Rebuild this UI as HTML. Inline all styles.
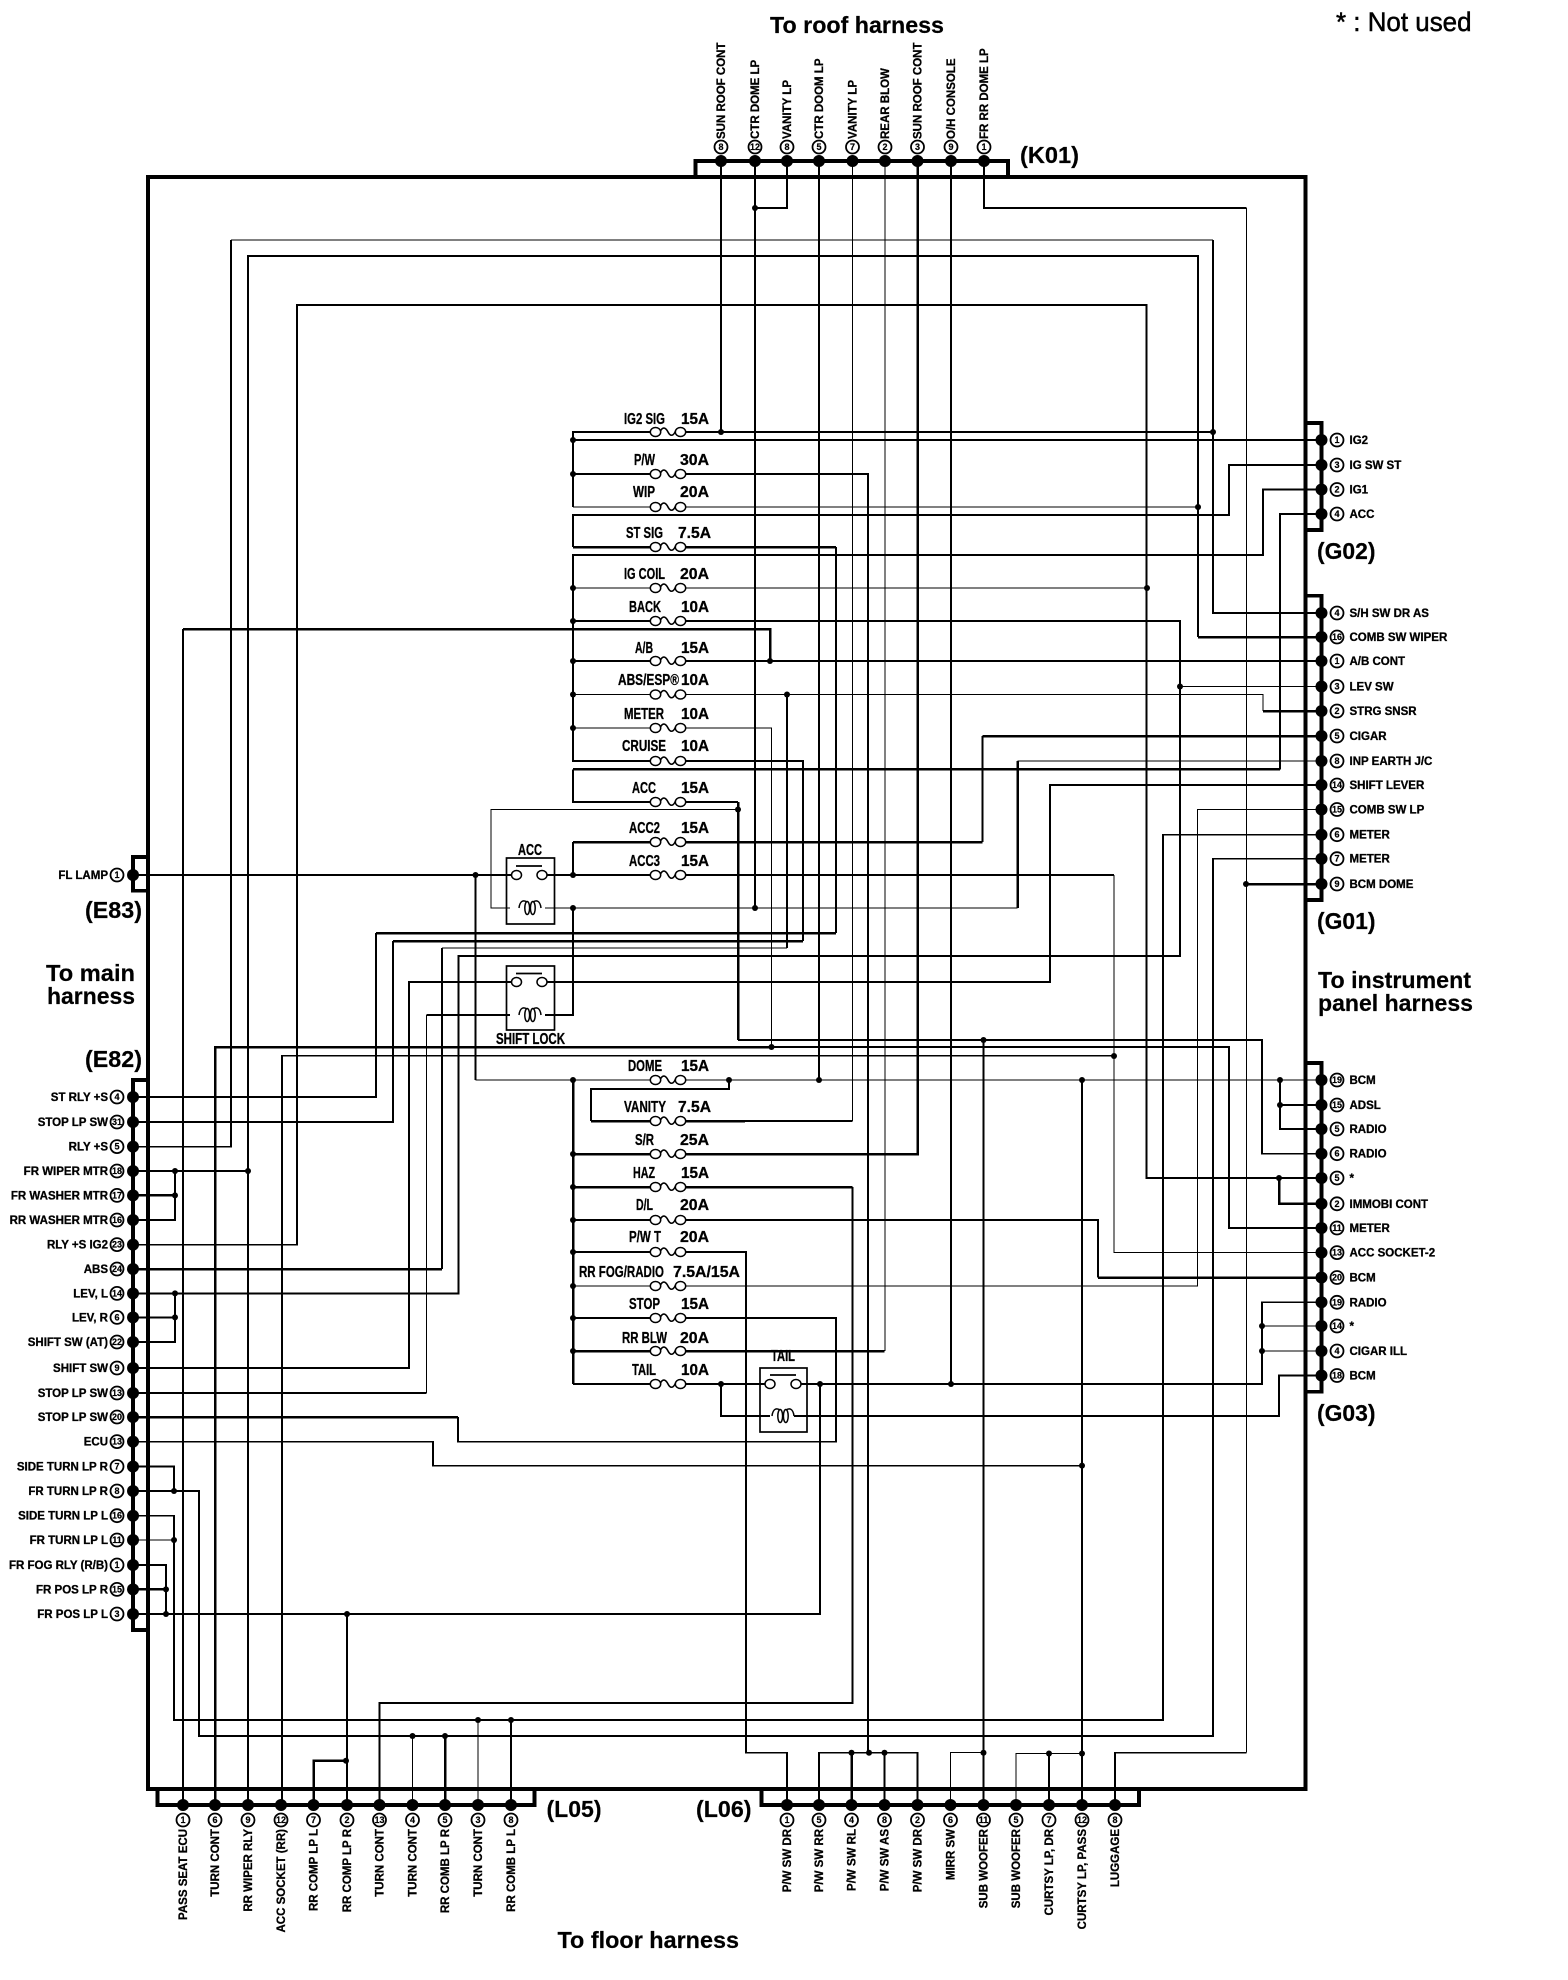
<!DOCTYPE html>
<html><head><meta charset="utf-8"><title>Fuse box diagram</title>
<style>
html,body{margin:0;padding:0;background:#fff}
svg{display:block}
text{font-family:"Liberation Sans",sans-serif;font-weight:bold;fill:#000;stroke:#000;stroke-width:.3}
.w path{fill:none;stroke:#000;stroke-linejoin:miter;shape-rendering:crispEdges}
.t path{stroke-width:1}
.m path{stroke-width:1.7}
.k path{stroke-width:2.5}
.x path{stroke-width:3.6}
.d circle{fill:#000}
.o circle{fill:#fff;stroke:#000;stroke-width:1.8}
.n text{font-size:9px;text-anchor:middle;stroke-width:.2}
.l text{font-size:11.5px}
.e text{font-size:11.5px;text-anchor:end}
.f text{font-size:15.5px}
.h text{font-size:23px;stroke-width:.2}
</style></head><body>
<svg xmlns="http://www.w3.org/2000/svg" width="1568" height="1980" viewBox="0 0 1568 1980">
<defs>
<g id="f"><rect x="-12" y="-4" width="24" height="8" fill="#fff"/><ellipse cx="-12.5" rx="5.2" ry="4.5" fill="#fff" stroke="#000" stroke-width="1.5"/><ellipse cx="12.5" rx="5.2" ry="4.5" fill="#fff" stroke="#000" stroke-width="1.5"/><path d="M-7.5 -1C-5 -6 -2 -4 0 0S5 5 7.5 -1" fill="none" stroke="#000" stroke-width="1.6"/></g>
<g id="c"><path d="M-11 0C-10 -8 -6 -8 -3 -6M3 -6C6 -8 10 -8 11 0" fill="none" stroke="#000" stroke-width="1.5"/><ellipse cx="-2.8" rx="2.4" ry="6.5" fill="#fff" stroke="#000" stroke-width="1.5"/><ellipse cx="2.8" rx="2.4" ry="6.5" fill="#fff" stroke="#000" stroke-width="1.5"/></g>
</defs>

<g class="w t">
<path d="M852.5 161V1121"/><path d="M885 161V1351"/>
<path d="M573 588H1147"/><path d="M1180 686.5H1321.5"/>
<path d="M573 694.5H1263V711"/><path d="M573 728H771.5V1047"/>
<path d="M738 809.5H491V908H510"/><path d="M1114 875V1252.6H1321.5"/>
<path d="M475.5 1080H1321.5"/><path d="M1017.5 761H1321.5"/>
<path d="M426.5 1015V1393"/><path d="M573 1286H1197.5V809.5H1321.5"/>
<path d="M1262 1326H1321.5"/><path d="M1262 1351H1321.5"/><path d="M133 1540H174"/>
<path d="M412.5 1736V1805"/><path d="M478 1720V1805"/><path d="M950.5 1805V1752.7H983.5"/><path d="M1016 1805V1753.5H1082"/>
<path d="M1246.5 208V1752.7"/>
<path d="M545 908H1017.5"/><path d="M787 948H442"/><path d="M573 507H1198"/><path d="M231 240H1213"/>
</g>
<g class="w m">
<path d="M721 161V432"/><path d="M755 161V908"/><path d="M755 208H787V161"/><path d="M819 161V1080"/><path d="M951 161V1384"/>
<path d="M729 1080V1089H591V1121"/><path d="M745 1121H852.5"/>
<path d="M984 161V208H1246.5M1246.5 1752.7H1115V1805"/>
<path d="M133 1146.6H231V240M1213 240V613H1321.5"/>
<path d="M248 1805V256H1198V637"/>
<path d="M133 1244.6H297V305H1146.5V1178H1321.5"/>
<path d="M1213 432H573V507"/><path d="M573 440H1321.5"/><path d="M573 474H868V1752.7"/>
<path d="M1321.5 465H1229V515H573V547"/>
<path d="M1321.5 489.5H1263V555H573V761H803V941"/>
<path d="M573 621H1180V956H458.5V1293.4H133"/>
<path d="M183 1805V629"/><path d="M771.5 1047H1229V1228H1321.5"/>
<path d="M1280 769.4V514H1321.5"/><path d="M573 769.4V802H738M738 1040H1262V1153.7H1321.5"/>
<path d="M983.5 1040V1805"/><path d="M573 842V875"/>
<path d="M133 875H512"/><path d="M546 875H1114"/>
<path d="M282 1805V1055.6H1114"/>
<path d="M573 908V1015H545"/>
<path d="M512 982H409V1368H133"/><path d="M546 982H1050V785H1321.5"/>
<path d="M510 1015H426.5M426.5 1393H133"/>
<path d="M1082 1080V1805"/><path d="M1280 1080V1129H1321.5"/><path d="M1280 1105H1321.5"/>
<path d="M852.5 1187V1703H379.5V1805"/><path d="M573 1220H1098V1277.5"/>
<path d="M573 1252H746V1752.7H787V1805"/>
<path d="M573 1318H836V1441.6H458V1417"/>
<path d="M1321.5 1302.3H1262V1384H800"/><path d="M573 1384H766"/>
<path d="M721 1384V1416H770"/><path d="M794 1416H1279V1375.5H1321.5"/>
<path d="M820 1384V1614H133"/><path d="M347 1614V1805"/>
<path d="M133 1441.6H433V1465.6H1082"/>
<path d="M133 1171H248"/><path d="M175 1171V1220H133"/>
<path d="M175 1293.4V1342H133"/><path d="M133 1317.4H175"/>
<path d="M133 1466.5H174V1491"/><path d="M133 1491H199V1736H1213V858.7H1321.5"/>
<path d="M133 1515.7H174V1720H1163V834.7H1321.5"/>
<path d="M133 1565H166V1614"/>
<path d="M511 1720V1805"/><path d="M819 1805V1752.7H917.5V1805"/><path d="M884.5 1752.7V1805"/><path d="M1049 1753.5V1805"/>
<path d="M836 547V933"/><path d="M376 933V1097H133"/><path d="M393 941V1122H133"/>
<path d="M787 694.5V948"/><path d="M442 948V1269"/><path d="M573 661H1321.5"/>
<path d="M475.5 875V1080"/><path d="M982.5 842V736"/>
</g>
<g class="w k">
<path d="M591 1121H745"/><path d="M573 1351H884.5"/><path d="M917.5 161V1154H573"/>
<path d="M1198 637H1321.5"/><path d="M573 547H836"/><path d="M836 933H376"/><path d="M803 941H393"/>
<path d="M183 629H770V661"/><path d="M1263 711H1321.5"/>
<path d="M442 1269H133"/><path d="M771.5 1047H215V1805"/>
<path d="M573 769.4H1280"/><path d="M573 842H982.5M982.5 736H1321.5"/>
<path d="M738 802V1040"/><path d="M1017.5 908V761"/><path d="M573 1080V1384"/>
<path d="M573 1187H852.5"/><path d="M1098 1277.5H1321.5"/><path d="M458 1417H133"/>
<path d="M1246 884H1321.5"/><path d="M1279 1178V1203.8H1321.5"/>
<path d="M313.5 1805V1760.7H346"/><path d="M133 1195.4H175"/><path d="M133 1589.4H166"/>
<path d="M851.5 1752.7V1805"/><path d="M445 1736V1805"/>
</g>
<g class="w x">
<path d="M148 177H1305.5V1789H148Z"/>
<path d="M695.5 177V161H1008V177"/><path d="M1305.5 423H1321.5V530H1305.5"/><path d="M1305.5 595.6H1321.5V900H1305.5"/><path d="M1305.5 1063H1321.5V1391.6H1305.5"/>
<path d="M148 857H133V890.6H148"/><path d="M148 1080H133V1630H148"/>
<path d="M157.5 1789V1805H534.5V1789"/><path d="M761.5 1789V1805H1139V1789"/>
</g>

<!-- small junction dots -->
<g class="d">
<circle cx="755" cy="208" r="3"/><circle cx="721" cy="432" r="3"/><circle cx="1213" cy="432" r="3"/><circle cx="573" cy="440" r="3"/><circle cx="573" cy="474" r="3"/><circle cx="1198" cy="507" r="3"/><circle cx="1147" cy="588" r="3"/><circle cx="573" cy="588" r="3"/><circle cx="573" cy="621" r="3"/><circle cx="770" cy="661" r="3"/><circle cx="573" cy="661" r="3"/><circle cx="573" cy="694.5" r="3"/><circle cx="787" cy="694.5" r="3"/><circle cx="573" cy="728" r="3"/><circle cx="1180" cy="686.5" r="3"/><circle cx="738" cy="809.5" r="3"/><circle cx="475.5" cy="875" r="3"/><circle cx="573" cy="875" r="3"/><circle cx="573" cy="908" r="3"/><circle cx="755" cy="908" r="3"/><circle cx="771.5" cy="1047" r="3"/><circle cx="1114" cy="1056" r="3"/><circle cx="983.5" cy="1040" r="3"/><circle cx="573" cy="1080" r="3"/><circle cx="729" cy="1080" r="3"/><circle cx="819" cy="1080" r="3"/><circle cx="1082" cy="1080" r="3"/><circle cx="1280" cy="1080" r="3"/><circle cx="1280" cy="1105" r="3"/><circle cx="1279" cy="1178" r="3"/><circle cx="573" cy="1154" r="3"/><circle cx="573" cy="1187" r="3"/><circle cx="573" cy="1220" r="3"/><circle cx="573" cy="1252" r="3"/><circle cx="573" cy="1286" r="3"/><circle cx="573" cy="1318" r="3"/><circle cx="573" cy="1351" r="3"/><circle cx="721" cy="1384" r="3"/><circle cx="820" cy="1384" r="3"/><circle cx="951" cy="1384" r="3"/><circle cx="1262" cy="1326" r="3"/><circle cx="1262" cy="1351" r="3"/><circle cx="1082" cy="1465.6" r="3"/><circle cx="248" cy="1171" r="3"/><circle cx="175" cy="1171" r="3"/><circle cx="175" cy="1195.4" r="3"/><circle cx="175" cy="1293.4" r="3"/><circle cx="175" cy="1317.4" r="3"/><circle cx="174" cy="1491" r="3"/><circle cx="174" cy="1540" r="3"/><circle cx="166" cy="1589.4" r="3"/><circle cx="166" cy="1614" r="3"/><circle cx="347" cy="1614" r="3"/><circle cx="346" cy="1760.7" r="3"/><circle cx="412.5" cy="1736" r="3"/><circle cx="445" cy="1736" r="3"/><circle cx="478" cy="1720" r="3"/><circle cx="511" cy="1720" r="3"/><circle cx="851.5" cy="1752.7" r="3"/><circle cx="869" cy="1752.7" r="3"/><circle cx="884.5" cy="1752.7" r="3"/><circle cx="983.5" cy="1752.7" r="3"/><circle cx="1049" cy="1753.5" r="3"/><circle cx="1082" cy="1753.5" r="3"/><circle cx="1246" cy="884" r="3"/>
</g>

<!-- fuses -->
<use href="#f" x="668" y="432"/><use href="#f" x="668" y="474"/><use href="#f" x="668" y="507"/><use href="#f" x="668" y="547"/><use href="#f" x="668" y="588"/><use href="#f" x="668" y="621"/><use href="#f" x="668" y="661"/><use href="#f" x="668" y="694.5"/><use href="#f" x="668" y="728"/><use href="#f" x="668" y="761"/><use href="#f" x="668" y="802"/><use href="#f" x="668" y="842"/><use href="#f" x="668" y="875"/><use href="#f" x="668" y="1080"/><use href="#f" x="668" y="1121"/><use href="#f" x="668" y="1154"/><use href="#f" x="668" y="1187"/><use href="#f" x="668" y="1220"/><use href="#f" x="668" y="1252"/><use href="#f" x="668" y="1286"/><use href="#f" x="668" y="1318"/><use href="#f" x="668" y="1351"/><use href="#f" x="668" y="1384"/>

<!-- relays -->
<g fill="none" stroke="#000" stroke-width="1.7">
<rect x="506.5" y="858" width="48" height="66"/><path d="M516 866H542"/>
<rect x="506.5" y="966" width="48" height="64"/><path d="M516 973.5H542"/>
<rect x="760" y="1368" width="47" height="64"/><path d="M770 1375H796"/>
</g>
<g fill="#fff" stroke="#000" stroke-width="1.5">
<ellipse cx="516.5" cy="875" rx="5" ry="4.5"/><ellipse cx="542" cy="875" rx="5" ry="4.5"/>
<ellipse cx="516.5" cy="982" rx="5" ry="4.5"/><ellipse cx="542" cy="982" rx="5" ry="4.5"/>
<ellipse cx="770" cy="1384" rx="5" ry="4.5"/><ellipse cx="796" cy="1384" rx="5" ry="4.5"/>
</g>
<use href="#c" x="530" y="908"/><use href="#c" x="530" y="1015"/><use href="#c" x="783" y="1416"/>

<!-- fuse labels -->
<g class="f">
<text x="624" y="424" textLength="41" lengthAdjust="spacingAndGlyphs">IG2 SIG</text><text x="681" y="424" textLength="28" lengthAdjust="spacingAndGlyphs">15A</text>
<text x="634" y="465" textLength="21" lengthAdjust="spacingAndGlyphs">P/W</text><text x="680" y="465" textLength="29" lengthAdjust="spacingAndGlyphs">30A</text>
<text x="633" y="497" textLength="22" lengthAdjust="spacingAndGlyphs">WIP</text><text x="680" y="497" textLength="29" lengthAdjust="spacingAndGlyphs">20A</text>
<text x="626" y="538" textLength="37" lengthAdjust="spacingAndGlyphs">ST SIG</text><text x="678" y="538" textLength="33" lengthAdjust="spacingAndGlyphs">7.5A</text>
<text x="624" y="579" textLength="41" lengthAdjust="spacingAndGlyphs">IG COIL</text><text x="680" y="579" textLength="29" lengthAdjust="spacingAndGlyphs">20A</text>
<text x="629" y="612" textLength="32" lengthAdjust="spacingAndGlyphs">BACK</text><text x="681" y="612" textLength="28" lengthAdjust="spacingAndGlyphs">10A</text>
<text x="635" y="653" textLength="18" lengthAdjust="spacingAndGlyphs">A/B</text><text x="681" y="653" textLength="28" lengthAdjust="spacingAndGlyphs">15A</text>
<text x="618" y="685" textLength="61" lengthAdjust="spacingAndGlyphs">ABS/ESP®</text><text x="681" y="685" textLength="28" lengthAdjust="spacingAndGlyphs">10A</text>
<text x="624" y="719" textLength="40" lengthAdjust="spacingAndGlyphs">METER</text><text x="681" y="719" textLength="28" lengthAdjust="spacingAndGlyphs">10A</text>
<text x="622" y="751" textLength="44" lengthAdjust="spacingAndGlyphs">CRUISE</text><text x="681" y="751" textLength="28" lengthAdjust="spacingAndGlyphs">10A</text>
<text x="632" y="793" textLength="24" lengthAdjust="spacingAndGlyphs">ACC</text><text x="681" y="793" textLength="28" lengthAdjust="spacingAndGlyphs">15A</text>
<text x="629" y="833" textLength="31" lengthAdjust="spacingAndGlyphs">ACC2</text><text x="681" y="833" textLength="28" lengthAdjust="spacingAndGlyphs">15A</text>
<text x="629" y="866" textLength="31" lengthAdjust="spacingAndGlyphs">ACC3</text><text x="681" y="866" textLength="28" lengthAdjust="spacingAndGlyphs">15A</text>
<text x="628" y="1071" textLength="34" lengthAdjust="spacingAndGlyphs">DOME</text><text x="681" y="1071" textLength="28" lengthAdjust="spacingAndGlyphs">15A</text>
<text x="624" y="1112" textLength="42" lengthAdjust="spacingAndGlyphs">VANITY</text><text x="678" y="1112" textLength="33" lengthAdjust="spacingAndGlyphs">7.5A</text>
<text x="635" y="1145" textLength="19" lengthAdjust="spacingAndGlyphs">S/R</text><text x="680" y="1145" textLength="29" lengthAdjust="spacingAndGlyphs">25A</text>
<text x="633" y="1178" textLength="22" lengthAdjust="spacingAndGlyphs">HAZ</text><text x="681" y="1178" textLength="28" lengthAdjust="spacingAndGlyphs">15A</text>
<text x="636" y="1210" textLength="17" lengthAdjust="spacingAndGlyphs">D/L</text><text x="680" y="1210" textLength="29" lengthAdjust="spacingAndGlyphs">20A</text>
<text x="629" y="1242" textLength="32" lengthAdjust="spacingAndGlyphs">P/W T</text><text x="680" y="1242" textLength="29" lengthAdjust="spacingAndGlyphs">20A</text>
<text x="579" y="1277" textLength="85" lengthAdjust="spacingAndGlyphs">RR FOG/RADIO</text><text x="673" y="1277" textLength="67" lengthAdjust="spacingAndGlyphs">7.5A/15A</text>
<text x="629" y="1309" textLength="31" lengthAdjust="spacingAndGlyphs">STOP</text><text x="681" y="1309" textLength="28" lengthAdjust="spacingAndGlyphs">15A</text>
<text x="622" y="1343" textLength="45" lengthAdjust="spacingAndGlyphs">RR BLW</text><text x="680" y="1343" textLength="29" lengthAdjust="spacingAndGlyphs">20A</text>
<text x="632" y="1375" textLength="24" lengthAdjust="spacingAndGlyphs">TAIL</text><text x="681" y="1375" textLength="28" lengthAdjust="spacingAndGlyphs">10A</text>
<text x="518" y="855" textLength="24" lengthAdjust="spacingAndGlyphs">ACC</text>
<text x="496" y="1044" textLength="69" lengthAdjust="spacingAndGlyphs">SHIFT LOCK</text>
<text x="771" y="1361" textLength="24" lengthAdjust="spacingAndGlyphs">TAIL</text>
</g>

<!-- pin dots -->
<g class="d">
<circle cx="721" cy="161" r="6"/><circle cx="755" cy="161" r="6"/><circle cx="787" cy="161" r="6"/><circle cx="819" cy="161" r="6"/><circle cx="852.5" cy="161" r="6"/><circle cx="885" cy="161" r="6"/><circle cx="917.5" cy="161" r="6"/><circle cx="951" cy="161" r="6"/><circle cx="984" cy="161" r="6"/>
<circle cx="1321.5" cy="440" r="6"/><circle cx="1321.5" cy="465" r="6"/><circle cx="1321.5" cy="489.5" r="6"/><circle cx="1321.5" cy="514" r="6"/>
<circle cx="1321.5" cy="613" r="6"/><circle cx="1321.5" cy="637" r="6"/><circle cx="1321.5" cy="661" r="6"/><circle cx="1321.5" cy="686.5" r="6"/><circle cx="1321.5" cy="711" r="6"/><circle cx="1321.5" cy="736" r="6"/><circle cx="1321.5" cy="761" r="6"/><circle cx="1321.5" cy="785" r="6"/><circle cx="1321.5" cy="809.5" r="6"/><circle cx="1321.5" cy="834.7" r="6"/><circle cx="1321.5" cy="858.7" r="6"/><circle cx="1321.5" cy="884" r="6"/>
<circle cx="1321.5" cy="1080" r="6"/><circle cx="1321.5" cy="1105" r="6"/><circle cx="1321.5" cy="1129" r="6"/><circle cx="1321.5" cy="1153.7" r="6"/><circle cx="1321.5" cy="1178" r="6"/><circle cx="1321.5" cy="1203.8" r="6"/><circle cx="1321.5" cy="1228" r="6"/><circle cx="1321.5" cy="1252.6" r="6"/><circle cx="1321.5" cy="1277.5" r="6"/><circle cx="1321.5" cy="1302.3" r="6"/><circle cx="1321.5" cy="1326" r="6"/><circle cx="1321.5" cy="1351" r="6"/><circle cx="1321.5" cy="1375.5" r="6"/>
<circle cx="133" cy="875" r="6"/>
<circle cx="133" cy="1097" r="6"/><circle cx="133" cy="1122" r="6"/><circle cx="133" cy="1146.6" r="6"/><circle cx="133" cy="1171" r="6"/><circle cx="133" cy="1195.4" r="6"/><circle cx="133" cy="1220" r="6"/><circle cx="133" cy="1244.6" r="6"/><circle cx="133" cy="1269" r="6"/><circle cx="133" cy="1293.4" r="6"/><circle cx="133" cy="1317.4" r="6"/><circle cx="133" cy="1342" r="6"/><circle cx="133" cy="1368" r="6"/><circle cx="133" cy="1393" r="6"/><circle cx="133" cy="1417" r="6"/><circle cx="133" cy="1441.6" r="6"/><circle cx="133" cy="1466.5" r="6"/><circle cx="133" cy="1491" r="6"/><circle cx="133" cy="1515.7" r="6"/><circle cx="133" cy="1540" r="6"/><circle cx="133" cy="1565" r="6"/><circle cx="133" cy="1589.4" r="6"/><circle cx="133" cy="1614" r="6"/>
<circle cx="183" cy="1805" r="6"/><circle cx="215" cy="1805" r="6"/><circle cx="248" cy="1805" r="6"/><circle cx="281" cy="1805" r="6"/><circle cx="313.5" cy="1805" r="6"/><circle cx="347" cy="1805" r="6"/><circle cx="379.5" cy="1805" r="6"/><circle cx="412.5" cy="1805" r="6"/><circle cx="445" cy="1805" r="6"/><circle cx="478" cy="1805" r="6"/><circle cx="511" cy="1805" r="6"/>
<circle cx="787" cy="1805" r="6"/><circle cx="819" cy="1805" r="6"/><circle cx="851.5" cy="1805" r="6"/><circle cx="884.5" cy="1805" r="6"/><circle cx="917.5" cy="1805" r="6"/><circle cx="950.5" cy="1805" r="6"/><circle cx="983.5" cy="1805" r="6"/><circle cx="1016" cy="1805" r="6"/><circle cx="1049" cy="1805" r="6"/><circle cx="1082" cy="1805" r="6"/><circle cx="1115" cy="1805" r="6"/>
</g>

<!-- circled pin-number outlines -->
<g class="o">
<circle cx="721" cy="147" r="6.5"/><circle cx="755" cy="147" r="6.5"/><circle cx="787" cy="147" r="6.5"/><circle cx="819" cy="147" r="6.5"/><circle cx="852.5" cy="147" r="6.5"/><circle cx="885" cy="147" r="6.5"/><circle cx="917.5" cy="147" r="6.5"/><circle cx="951" cy="147" r="6.5"/><circle cx="984" cy="147" r="6.5"/>
<circle cx="1337" cy="440" r="6.5"/><circle cx="1337" cy="465" r="6.5"/><circle cx="1337" cy="489.5" r="6.5"/><circle cx="1337" cy="514" r="6.5"/>
<circle cx="1337" cy="613" r="6.5"/><circle cx="1337" cy="637" r="6.5"/><circle cx="1337" cy="661" r="6.5"/><circle cx="1337" cy="686.5" r="6.5"/><circle cx="1337" cy="711" r="6.5"/><circle cx="1337" cy="736" r="6.5"/><circle cx="1337" cy="761" r="6.5"/><circle cx="1337" cy="785" r="6.5"/><circle cx="1337" cy="809.5" r="6.5"/><circle cx="1337" cy="834.7" r="6.5"/><circle cx="1337" cy="858.7" r="6.5"/><circle cx="1337" cy="884" r="6.5"/>
<circle cx="1337" cy="1080" r="6.5"/><circle cx="1337" cy="1105" r="6.5"/><circle cx="1337" cy="1129" r="6.5"/><circle cx="1337" cy="1153.7" r="6.5"/><circle cx="1337" cy="1178" r="6.5"/><circle cx="1337" cy="1203.8" r="6.5"/><circle cx="1337" cy="1228" r="6.5"/><circle cx="1337" cy="1252.6" r="6.5"/><circle cx="1337" cy="1277.5" r="6.5"/><circle cx="1337" cy="1302.3" r="6.5"/><circle cx="1337" cy="1326" r="6.5"/><circle cx="1337" cy="1351" r="6.5"/><circle cx="1337" cy="1375.5" r="6.5"/>
<circle cx="117" cy="875" r="6.5"/>
<circle cx="117" cy="1097" r="6.5"/><circle cx="117" cy="1122" r="6.5"/><circle cx="117" cy="1146.6" r="6.5"/><circle cx="117" cy="1171" r="6.5"/><circle cx="117" cy="1195.4" r="6.5"/><circle cx="117" cy="1220" r="6.5"/><circle cx="117" cy="1244.6" r="6.5"/><circle cx="117" cy="1269" r="6.5"/><circle cx="117" cy="1293.4" r="6.5"/><circle cx="117" cy="1317.4" r="6.5"/><circle cx="117" cy="1342" r="6.5"/><circle cx="117" cy="1368" r="6.5"/><circle cx="117" cy="1393" r="6.5"/><circle cx="117" cy="1417" r="6.5"/><circle cx="117" cy="1441.6" r="6.5"/><circle cx="117" cy="1466.5" r="6.5"/><circle cx="117" cy="1491" r="6.5"/><circle cx="117" cy="1515.7" r="6.5"/><circle cx="117" cy="1540" r="6.5"/><circle cx="117" cy="1565" r="6.5"/><circle cx="117" cy="1589.4" r="6.5"/><circle cx="117" cy="1614" r="6.5"/>
<circle cx="183" cy="1820" r="6.5"/><circle cx="215" cy="1820" r="6.5"/><circle cx="248" cy="1820" r="6.5"/><circle cx="281" cy="1820" r="6.5"/><circle cx="313.5" cy="1820" r="6.5"/><circle cx="347" cy="1820" r="6.5"/><circle cx="379.5" cy="1820" r="6.5"/><circle cx="412.5" cy="1820" r="6.5"/><circle cx="445" cy="1820" r="6.5"/><circle cx="478" cy="1820" r="6.5"/><circle cx="511" cy="1820" r="6.5"/>
<circle cx="787" cy="1820" r="6.5"/><circle cx="819" cy="1820" r="6.5"/><circle cx="851.5" cy="1820" r="6.5"/><circle cx="884.5" cy="1820" r="6.5"/><circle cx="917.5" cy="1820" r="6.5"/><circle cx="950.5" cy="1820" r="6.5"/><circle cx="983.5" cy="1820" r="6.5"/><circle cx="1016" cy="1820" r="6.5"/><circle cx="1049" cy="1820" r="6.5"/><circle cx="1082" cy="1820" r="6.5"/><circle cx="1115" cy="1820" r="6.5"/>
</g>

<!-- pin numbers -->
<g class="n">
<text x="721" y="150">8</text><text x="755" y="150">12</text><text x="787" y="150">8</text><text x="819" y="150">5</text><text x="852.5" y="150">7</text><text x="885" y="150">2</text><text x="917.5" y="150">3</text><text x="951" y="150">9</text><text x="984" y="150">1</text>
<text x="1337" y="443">1</text><text x="1337" y="468">3</text><text x="1337" y="492.5">2</text><text x="1337" y="517">4</text>
<text x="1337" y="616">4</text><text x="1337" y="640">16</text><text x="1337" y="664">1</text><text x="1337" y="689.5">3</text><text x="1337" y="714">2</text><text x="1337" y="739">5</text><text x="1337" y="764">8</text><text x="1337" y="788">14</text><text x="1337" y="812.5">15</text><text x="1337" y="837.7">6</text><text x="1337" y="861.7">7</text><text x="1337" y="887">9</text>
<text x="1337" y="1083">19</text><text x="1337" y="1108">15</text><text x="1337" y="1132">5</text><text x="1337" y="1156.7">6</text><text x="1337" y="1181">5</text><text x="1337" y="1206.8">2</text><text x="1337" y="1231">11</text><text x="1337" y="1255.6">13</text><text x="1337" y="1280.5">20</text><text x="1337" y="1305.3">19</text><text x="1337" y="1329">14</text><text x="1337" y="1354">4</text><text x="1337" y="1378.5">18</text>
<text x="117" y="878">1</text>
<text x="117" y="1100">4</text><text x="117" y="1125">31</text><text x="117" y="1149.6">5</text><text x="117" y="1174">18</text><text x="117" y="1198.4">17</text><text x="117" y="1223">16</text><text x="117" y="1247.6">23</text><text x="117" y="1272">24</text><text x="117" y="1296.4">14</text><text x="117" y="1320.4">6</text><text x="117" y="1345">22</text><text x="117" y="1371">9</text><text x="117" y="1396">13</text><text x="117" y="1420">20</text><text x="117" y="1444.6">13</text><text x="117" y="1469.5">7</text><text x="117" y="1494">8</text><text x="117" y="1518.7">16</text><text x="117" y="1543">11</text><text x="117" y="1568">1</text><text x="117" y="1592.4">15</text><text x="117" y="1617">3</text>
<text x="183" y="1823">1</text><text x="215" y="1823">6</text><text x="248" y="1823">9</text><text x="281" y="1823">12</text><text x="313.5" y="1823">7</text><text x="347" y="1823">2</text><text x="379.5" y="1823">13</text><text x="412.5" y="1823">4</text><text x="445" y="1823">5</text><text x="478" y="1823">3</text><text x="511" y="1823">8</text>
<text x="787" y="1823">1</text><text x="819" y="1823">5</text><text x="851.5" y="1823">4</text><text x="884.5" y="1823">8</text><text x="917.5" y="1823">2</text><text x="950.5" y="1823">6</text><text x="983.5" y="1823">11</text><text x="1016" y="1823">5</text><text x="1049" y="1823">7</text><text x="1082" y="1823">12</text><text x="1115" y="1823">8</text>
</g>

<!-- K01 and G labels -->
<g class="l">
<text transform="translate(725 139) rotate(-90)">SUN ROOF CONT</text>
<text transform="translate(759 139) rotate(-90)">CTR DOME LP</text>
<text transform="translate(791 139) rotate(-90)">VANITY LP</text>
<text transform="translate(823 139) rotate(-90)">CTR DOOM LP</text>
<text transform="translate(856.5 139) rotate(-90)">VANITY LP</text>
<text transform="translate(889 139) rotate(-90)">REAR BLOW</text>
<text transform="translate(921.5 139) rotate(-90)">SUN ROOF CONT</text>
<text transform="translate(955 139) rotate(-90)">O/H CONSOLE</text>
<text transform="translate(988 139) rotate(-90)">FR RR DOME LP</text>
<text x="1349.5" y="444">IG2</text><text x="1349.5" y="469">IG SW ST</text><text x="1349.5" y="493.5">IG1</text><text x="1349.5" y="518">ACC</text>
<text x="1349.5" y="617">S/H SW DR AS</text><text x="1349.5" y="641">COMB SW WIPER</text><text x="1349.5" y="665">A/B CONT</text><text x="1349.5" y="690.5">LEV SW</text><text x="1349.5" y="715">STRG SNSR</text><text x="1349.5" y="740">CIGAR</text><text x="1349.5" y="765">INP EARTH J/C</text><text x="1349.5" y="789">SHIFT LEVER</text><text x="1349.5" y="813.5">COMB SW LP</text><text x="1349.5" y="838.7">METER</text><text x="1349.5" y="862.7">METER</text><text x="1349.5" y="888">BCM DOME</text>
<text x="1349.5" y="1084">BCM</text><text x="1349.5" y="1109">ADSL</text><text x="1349.5" y="1133">RADIO</text><text x="1349.5" y="1157.7">RADIO</text><text x="1349.5" y="1182">*</text><text x="1349.5" y="1207.8">IMMOBI CONT</text><text x="1349.5" y="1232">METER</text><text x="1349.5" y="1256.6">ACC SOCKET-2</text><text x="1349.5" y="1281.5">BCM</text><text x="1349.5" y="1306.3">RADIO</text><text x="1349.5" y="1330">*</text><text x="1349.5" y="1355">CIGAR ILL</text><text x="1349.5" y="1379.5">BCM</text>
</g>

<!-- E83/E82 and L labels -->
<g class="e">
<text x="108" y="879">FL LAMP</text>
<text x="108" y="1101">ST RLY +S</text><text x="108" y="1126">STOP LP SW</text><text x="108" y="1150.6">RLY +S</text><text x="108" y="1175">FR WIPER MTR</text><text x="108" y="1199.4">FR WASHER MTR</text><text x="108" y="1224">RR WASHER MTR</text><text x="108" y="1248.6">RLY +S IG2</text><text x="108" y="1273">ABS</text><text x="108" y="1297.4">LEV, L</text><text x="108" y="1321.4">LEV, R</text><text x="108" y="1346">SHIFT SW (AT)</text><text x="108" y="1372">SHIFT SW</text><text x="108" y="1397">STOP LP SW</text><text x="108" y="1421">STOP LP SW</text><text x="108" y="1445.6">ECU</text><text x="108" y="1470.5">SIDE TURN LP R</text><text x="108" y="1495">FR TURN LP R</text><text x="108" y="1519.7">SIDE TURN LP L</text><text x="108" y="1544">FR TURN LP L</text><text x="108" y="1569">FR FOG RLY (R/B)</text><text x="108" y="1593.4">FR POS LP R</text><text x="108" y="1618">FR POS LP L</text>
<text transform="translate(187 1829) rotate(-90)">PASS SEAT ECU</text>
<text transform="translate(219 1829) rotate(-90)">TURN CONT</text>
<text transform="translate(252 1829) rotate(-90)">RR WIPER RLY</text>
<text transform="translate(285 1829) rotate(-90)">ACC SOCKET (RR)</text>
<text transform="translate(317.5 1829) rotate(-90)">RR COMP LP L</text>
<text transform="translate(351 1829) rotate(-90)">RR COMP LP R</text>
<text transform="translate(383.5 1829) rotate(-90)">TURN CONT</text>
<text transform="translate(416.5 1829) rotate(-90)">TURN CONT</text>
<text transform="translate(449 1829) rotate(-90)">RR COMB LP R</text>
<text transform="translate(482 1829) rotate(-90)">TURN CONT</text>
<text transform="translate(515 1829) rotate(-90)">RR COMB LP L</text>
<text transform="translate(791 1829) rotate(-90)">P/W SW DR</text>
<text transform="translate(823 1829) rotate(-90)">P/W SW RR</text>
<text transform="translate(855.5 1829) rotate(-90)">P/W SW RL</text>
<text transform="translate(888.5 1829) rotate(-90)">P/W SW AS</text>
<text transform="translate(921.5 1829) rotate(-90)">P/W SW DR</text>
<text transform="translate(954.5 1829) rotate(-90)">MIRR SW</text>
<text transform="translate(987.5 1829) rotate(-90)">SUB WOOFER</text>
<text transform="translate(1020 1829) rotate(-90)">SUB WOOFER</text>
<text transform="translate(1053 1829) rotate(-90)">CURTSY LP, DR</text>
<text transform="translate(1086 1829) rotate(-90)">CURTSY LP, PASS</text>
<text transform="translate(1119 1829) rotate(-90)">LUGGAGE</text>
</g>

<!-- headings -->
<g class="h">
<text x="770" y="33" textLength="174" lengthAdjust="spacingAndGlyphs">To roof harness</text>
<text x="1336" y="31" textLength="135.5" lengthAdjust="spacingAndGlyphs" style="font-size:27px;font-weight:normal;stroke-width:.5">* : Not used</text>
<text x="1020" y="163" textLength="59" lengthAdjust="spacingAndGlyphs">(K01)</text>
<text x="1317" y="559" textLength="58.5" lengthAdjust="spacingAndGlyphs">(G02)</text>
<text x="1317" y="929" textLength="58.5" lengthAdjust="spacingAndGlyphs">(G01)</text>
<text x="1317" y="1421" textLength="58.5" lengthAdjust="spacingAndGlyphs">(G03)</text>
<text x="1318" y="988" textLength="153" lengthAdjust="spacingAndGlyphs">To instrument</text>
<text x="1318" y="1011" textLength="155" lengthAdjust="spacingAndGlyphs">panel harness</text>
<text x="46" y="981" textLength="89" lengthAdjust="spacingAndGlyphs">To main</text>
<text x="47" y="1004" textLength="88" lengthAdjust="spacingAndGlyphs">harness</text>
<text x="85" y="918" textLength="57" lengthAdjust="spacingAndGlyphs">(E83)</text>
<text x="85" y="1067" textLength="57" lengthAdjust="spacingAndGlyphs">(E82)</text>
<text x="546.5" y="1817" textLength="55" lengthAdjust="spacingAndGlyphs">(L05)</text>
<text x="696" y="1817" textLength="55.5" lengthAdjust="spacingAndGlyphs">(L06)</text>
<text x="557.5" y="1948" textLength="181.5" lengthAdjust="spacingAndGlyphs">To floor harness</text>
</g>
</svg>
</body></html>
